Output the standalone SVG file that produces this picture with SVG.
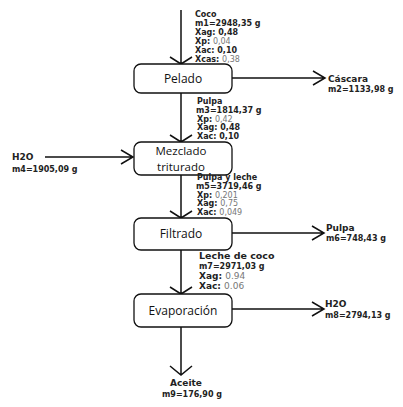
<svg xmlns="http://www.w3.org/2000/svg" width="403" height="407" viewBox="0 0 403 407">
<style>
.box{fill:#fff;stroke:#111;stroke-width:1.3}
.bt{font-family:"Open Sans","Liberation Sans",sans-serif;font-size:12px;fill:#111;text-anchor:middle}
.ln{stroke:#111;stroke-width:1.5;fill:none}
.lb{font-family:"DejaVu Sans","Liberation Sans",sans-serif;font-size:8px;font-weight:bold;fill:#222}
.v{font-weight:normal;fill:#777}
</style>
<rect width="403" height="407" fill="#fff"/>
<g id="connectors">
<path class="ln" d="M181 10V64M170 57L181 64L192 57"/>
<path class="ln" d="M181 93V142M170 135L181 142L192 135"/>
<path class="ln" d="M181 175V218M170 211L181 218L192 211"/>
<path class="ln" d="M181 250V294M170 287L181 294L192 287"/>
<path class="ln" d="M181 327V375M170 366L181 375L192 366"/>
<path class="ln" d="M232 78H325M313 71L325 78L313 85"/>
<path class="ln" d="M45 157H133M121 150L133 157L121 164"/>
<path class="ln" d="M232 233H324M312 226L324 233L312 240"/>
<path class="ln" d="M232 309H324M312 302L324 309L312 316"/>
</g>
<g id="pelado"><rect class="box" x="134" y="64" width="98" height="29" rx="7"/><text class="bt" x="183" y="83">Pelado</text></g>
<g id="mezclado"><rect class="box" x="134" y="142" width="98" height="33" rx="7"/><text class="bt" x="181" y="155" style="font-size:11.5px">Mezclado</text><text class="bt" x="181" y="171" style="font-size:11.5px">triturado</text></g>
<g id="filtrado"><rect class="box" x="134" y="218" width="98" height="32" rx="7"/><text class="bt" x="181" y="238">Filtrado</text></g>
<g id="evaporacion"><rect class="box" x="134" y="294" width="98" height="33" rx="7"/><text class="bt" x="183" y="315">Evaporación</text></g>
<g id="coco" class="lb">
<text x="195" y="17">Coco</text>
<text x="195" y="26">m1=2948,35 g</text>
<text x="195" y="35">Xag: 0,48</text>
<text x="195" y="44">Xp: <tspan class="v">0,04</tspan></text>
<text x="195" y="53">Xac: 0,10</text>
<text x="195" y="62">Xcas: <tspan class="v">0,38</tspan></text>
</g>
<g id="pulpa" class="lb">
<text x="197" y="104">Pulpa</text>
<text x="196" y="113">m3=1814,37 g</text>
<text x="197" y="122">Xp: <tspan class="v">0,42</tspan></text>
<text x="197" y="130">Xag: 0,48</text>
<text x="197" y="139">Xac: 0,10</text>
</g>
<g id="pulpaleche" class="lb">
<text x="197" y="180">Pulpa y leche</text>
<text x="196" y="189">m5=3719,46 g</text>
<text x="197" y="198">Xp: <tspan class="v">0,201</tspan></text>
<text x="197" y="206">Xag: <tspan class="v">0,75</tspan></text>
<text x="197" y="215">Xac: <tspan class="v">0,049</tspan></text>
</g>
<g id="leche" class="lb">
<text x="199" y="259" style="font-size:9.5px">Leche de coco</text>
<text x="199" y="269">m7=2971,03 g</text>
<text x="199" y="279" style="font-size:9px">Xag: <tspan class="v">0.94</tspan></text>
<text x="199" y="289" style="font-size:9px">Xac: <tspan class="v">0.06</tspan></text>
</g>
<g id="cascara" class="lb"><text x="328" y="82" style="font-size:9px">Cáscara</text><text x="328" y="92">m2=1133,98 g</text></g>
<g id="h2o-in" class="lb"><text x="12" y="160" style="font-size:9px">H2O</text><text x="12" y="172">m4=1905,09 g</text></g>
<g id="pulpa-out" class="lb"><text x="326" y="231" style="font-size:9px">Pulpa</text><text x="326" y="241">m6=748,43 g</text></g>
<g id="h2o-out" class="lb"><text x="325" y="307" style="font-size:9px">H2O</text><text x="325" y="318">m8=2794,13 g</text></g>
<g id="aceite" class="lb"><text x="186" y="386" text-anchor="middle" style="font-size:9px">Aceite</text><text x="192" y="397" text-anchor="middle">m9=176,90 g</text></g>
</svg>
